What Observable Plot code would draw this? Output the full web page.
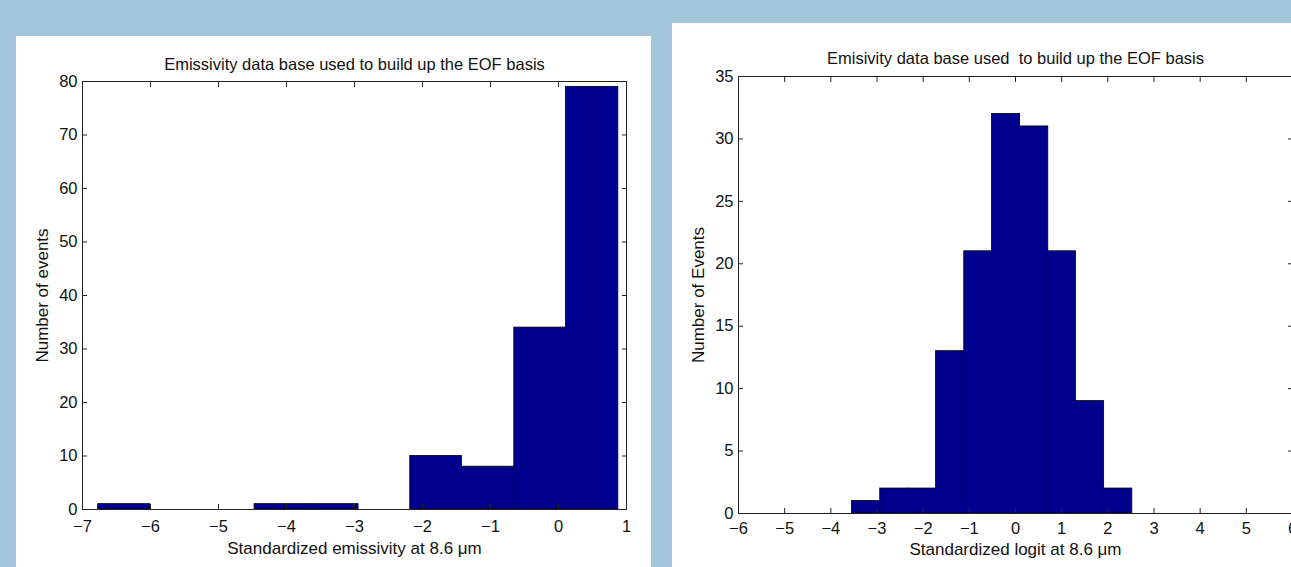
<!DOCTYPE html>
<html>
<head>
<meta charset="utf-8">
<script src="https://cdn.jsdelivr.net/npm/d3@7"></script>
<script src="https://cdn.jsdelivr.net/npm/@observablehq/plot@0.6"></script>
<style>
  html, body { margin: 0; padding: 0; }
  body { width: 1291px; height: 567px; overflow: hidden; position: relative; background: #a4c6da; }
  .panel { position: absolute; background: #ffffff; overflow: hidden; }
  #left { left: 16px; top: 36px; width: 635px; height: 531px; }
  #right { left: 672px; top: 23px; width: 619px; height: 544px; }
  .panel svg { max-width: none !important; display: block; }
  svg text { white-space: pre; }
</style>
</head>
<body>
<div id="left" class="panel"></div>
<div id="right" class="panel"></div>
<script>
// ---- Left histogram: standardized emissivity ----
const leftEdges = [-6.77, -6.00, -5.24, -4.47, -3.71, -2.94, -2.18, -1.42, -0.65, 0.11, 0.88];
const leftCounts = [1, 0, 0, 1, 1, 0, 10, 8, 34, 79];
const leftXTicks = [-7, -6, -5, -4, -3, -2, -1, 0, 1];
const leftYTicks = [0, 10, 20, 30, 40, 50, 60, 70, 80];
const leftTitle = "Emissivity data base used to build up the EOF basis";
const leftXLabel = "Standardized emissivity at 8.6 \u03bcm";
const leftYLabel = "Number of events";

// ---- Right histogram: standardized logit ----
const rightEdges = [-3.54, -2.93, -2.33, -1.72, -1.11, -0.51, 0.10, 0.71, 1.31, 1.92, 2.53];
const rightCounts = [1, 2, 2, 13, 21, 32, 31, 21, 9, 2];
const rightXTicks = [-6, -5, -4, -3, -2, -1, 0, 1, 2, 3, 4, 5, 6];
const rightYTicks = [0, 5, 10, 15, 20, 25, 30, 35];
const rightTitle = "Emisivity data base used  to build up the EOF basis";
const rightXLabel = "Standardized logit at 8.6 \u03bcm";
const rightYLabel = "Number of Events";

const fmt = d3.format("d");
const blank = () => "";

function hist(cfg) {
  const bins = cfg.counts.map((c, i) => ({x1: cfg.edges[i], x2: cfg.edges[i + 1], y1: 0, y2: c}));
  return Plot.plot({
    width: cfg.width,
    height: cfg.height,
    marginLeft: cfg.ml, marginRight: cfg.mr, marginTop: cfg.mt, marginBottom: cfg.mb,
    x: {domain: [cfg.xTicks[0], cfg.xTicks[cfg.xTicks.length - 1]]},
    y: {domain: [cfg.yTicks[0], cfg.yTicks[cfg.yTicks.length - 1]]},
    style: {fontFamily: "'Liberation Sans', Arial, sans-serif", fontSize: "16px", color: "#111", background: "transparent", overflow: "visible"},
    marks: [
      Plot.rect(bins, {x1: "x1", x2: "x2", y1: "y1", y2: "y2", fill: "#00008f", stroke: "#000", strokeWidth: 0.8}),
      Plot.frame({stroke: "#222", strokeWidth: 1}),
      Plot.axisX({anchor: "bottom", ticks: cfg.xTicks, tickSize: -5, tickFormat: blank, label: null, stroke: "#222"}),
      Plot.axisX({anchor: "top", ticks: cfg.xTicks, tickSize: -5, tickFormat: blank, label: null, stroke: "#222"}),
      Plot.axisX({anchor: "bottom", ticks: cfg.xTicks, tickSize: 0, tickPadding: cfg.xPad, tickFormat: fmt, label: null, fontSize: 16.5}),
      Plot.axisY({anchor: "left", ticks: cfg.yTicks, tickSize: -5, tickFormat: blank, label: null, stroke: "#222"}),
      Plot.axisY({anchor: "right", ticks: cfg.yTicks, tickSize: -5, tickFormat: blank, label: null, stroke: "#222"}),
      Plot.axisY({anchor: "left", ticks: cfg.yTicks, tickSize: 0, tickPadding: 5, tickFormat: fmt, label: null, fontSize: 16.5}),
      Plot.text([cfg.title], {text: d => d, frameAnchor: "top", dy: cfg.titleDy, lineAnchor: "middle", textAnchor: "middle", fontSize: 16.5}),
      Plot.text([cfg.xLabel], {text: d => d, frameAnchor: "bottom", dy: cfg.xLabelDy, lineAnchor: "middle", textAnchor: "middle", fontSize: 17}),
      Plot.text([cfg.yLabel], {text: d => d, frameAnchor: "left", dx: -40, rotate: -90, lineAnchor: "middle", textAnchor: "middle", fontSize: 17})
    ]
  });
}

document.getElementById("left").append(hist({
  edges: leftEdges, counts: leftCounts, xTicks: leftXTicks, yTicks: leftYTicks,
  title: leftTitle, xLabel: leftXLabel, yLabel: leftYLabel,
  width: 635, height: 531, ml: 66, mr: 25, mt: 45, mb: 58,
  xPad: 11, titleDy: -17, xLabelDy: 39
}));

document.getElementById("right").append(hist({
  edges: rightEdges, counts: rightCounts, xTicks: rightXTicks, yTicks: rightYTicks,
  title: rightTitle, xLabel: rightXLabel, yLabel: rightYLabel,
  width: 640, height: 544, ml: 66, mr: 20, mt: 53, mb: 54,
  xPad: 9, titleDy: -18, xLabelDy: 36
}));
</script>
</body>
</html>
